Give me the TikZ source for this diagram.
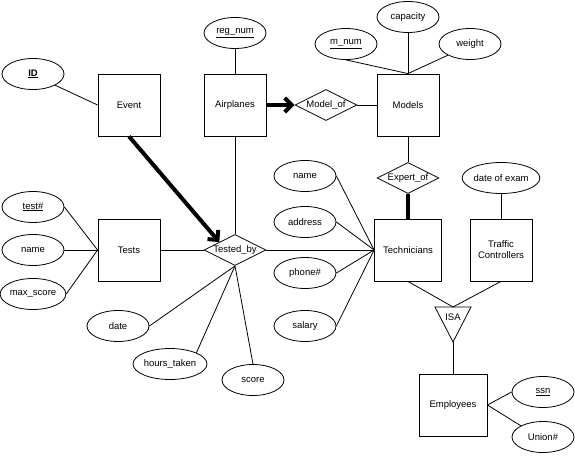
\documentclass[tikz,border=0pt]{standalone}
\usepackage{fontspec}
\setmainfont{Liberation Sans}
\usetikzlibrary{arrows.meta,positioning,shapes.geometric}

\begin{document}
\begin{tikzpicture}[
  x=1pt, y=-1pt, line width=0.8pt,
  every node/.style={font=\fontsize{9.5}{11}\selectfont},
  entity/.style={draw, minimum width=62pt, minimum height=62pt, align=center, inner sep=0pt},
  attr/.style={draw, ellipse, minimum width=62pt, minimum height=31pt, inner sep=0pt},
  rel/.style={draw, diamond, aspect=2, minimum width=62pt, minimum height=31pt, inner sep=-2pt},
  heavy/.style={line width=4pt},
  harr/.style={heavy, -{Straight Barb[angle=90:10pt]}}
]
\useasboundingbox (0,0) rectangle (575,466);
% entities
\node[entity] (event) at (129,105) {Event};
\node[entity] (planes) at (235,105) {Airplanes};
\node[entity] (models) at (408,105) {Models};
\node[entity] (tests) at (129,250) {Tests};
\node[entity, minimum width=67pt] (tech) at (408,250) {Technicians};
\node[entity] (traffic) at (501,250) {Traffic\\Controllers};
\node[entity, minimum width=68pt] (emp) at (453,405) {Employees};
% relationships
\node[rel] (modelof) at (326,105) {Model\_of};
\node[rel] (testedby) at (235,250) {Tested\_by};
\node[rel] (expertof) at (408,178) {Expert\_of};
\coordinate (isatop) at (453,307);
\coordinate (isatip) at (453,342);
\draw (435,307) -- (471,307) -- (isatip) -- cycle;
\node (isa) at (453,317) {ISA};
% attributes
\node[attr] (id) at (33,74) {\textbf{\underline{ID}}};
\node[attr] (regnum) at (235,33) {\underline{reg\_num}};
\node[attr] (mnum) at (346,44) {\underline{m\_num}};
\node[attr] (capacity) at (408,17) {capacity};
\node[attr] (weight) at (470,44) {weight};
\node[attr] (testno) at (33,207) {\underline{test\#}};
\node[attr] (tname) at (33,250) {name};
\node[attr] (maxscore) at (33,294) {max\_score};
\node[attr] (date) at (118,326) {date};
\node[attr] (hours) at (170,364) {hours\_taken};
\node[attr] (score) at (253,380) {score};
\node[attr] (ename) at (305,176) {name};
\node[attr] (address) at (305,222) {address};
\node[attr] (phone) at (305,273) {phone\#};
\node[attr] (salary) at (305,326) {salary};
\node[attr] (exam) at (501,178) {date of exam};
\node[attr] (ssn) at (543,392) {\underline{ssn}};
\node[attr] (union) at (543,437) {Union\#};
% connectors
\draw (id.south east) -- (event.west);
\draw (regnum) -- (planes);
\draw (mnum.south) -- (models.north);
\draw (capacity) -- (models.north);
\draw (weight.south west) -- (models.north);
\draw (modelof) -- (models);
\draw (models) -- (expertof);
\draw (planes) -- (testedby);
\draw (tests) -- (testedby);
\draw (testedby) -- (tech.west);
\foreach \a in {testno,tname,maxscore} \draw (\a.east) -- (tests.west);
\foreach \a in {ename,address,phone,salary} \draw (\a.east) -- (tech.west);
\draw (date.east) -- (testedby.south);
\draw (hours.north east) -- (testedby.south);
\draw (score.north) -- (testedby.south);
\draw (exam) -- (traffic);
\draw (tech.south) -- (isatop);
\draw (traffic.south) -- (isatop);
\draw (isatip) -- (emp.north);
\draw (ssn.west) -- (emp.east);
\draw (union.north west) -- (emp.east);
\draw[heavy] (expertof) -- (tech);
\draw[harr] (event.south) -- (testedby.north west);
\draw[harr] (planes) -- (modelof);
\end{tikzpicture}
\end{document}
